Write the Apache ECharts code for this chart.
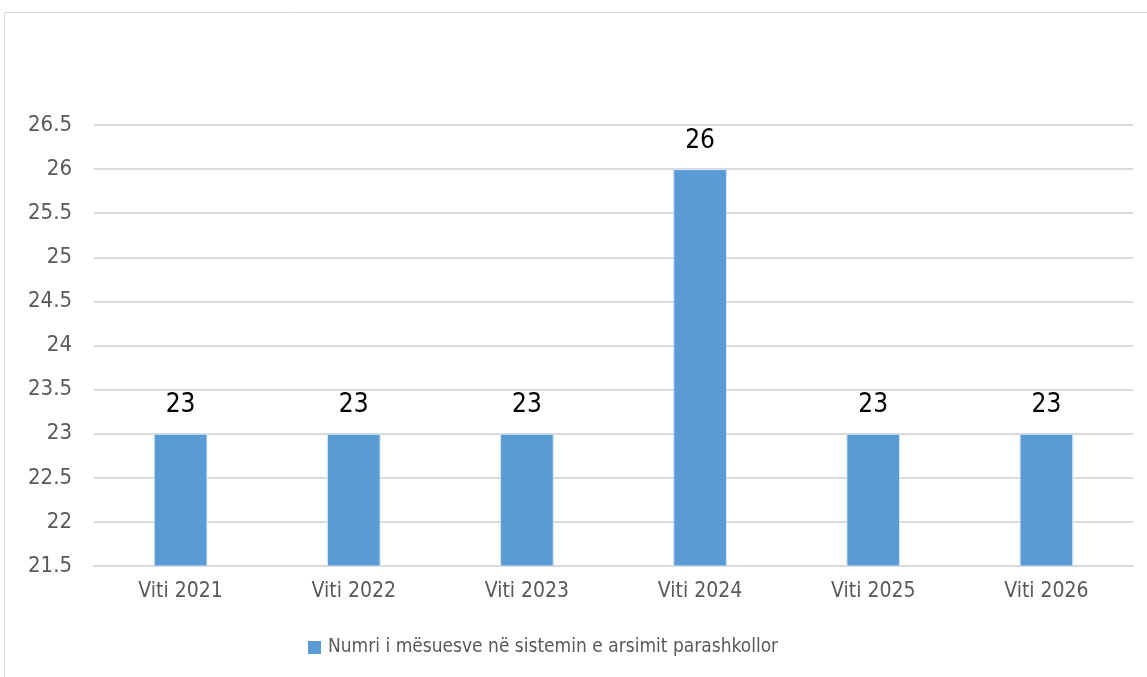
<!DOCTYPE html>
<html>
<head>
<meta charset="utf-8">
<script src="https://cdn.jsdelivr.net/npm/echarts@6/dist/echarts.min.js"></script>
<style>
  html, body { margin: 0; padding: 0; background: #fff; }
  #chart { width: 1147px; height: 677px; }
</style>
</head>
<body>
<div id="chart"></div>
<script>
// te dhenat
const categories = ['Viti 2021', 'Viti 2022', 'Viti 2023', 'Viti 2024', 'Viti 2025', 'Viti 2026'];
const teachers = [23, 23, 23, 26, 23, 23];
const seriesName = 'Numri i mësuesve në sistemin e arsimit parashkollor';

const font = '"DejaVu Sans Condensed", "Liberation Sans Narrow", "DejaVu Sans", sans-serif';

const chart = echarts.init(document.getElementById('chart'));

chart.setOption({
    animation: false,
    textStyle: { fontFamily: font },
    graphic: [{
        type: 'rect',
        shape: { x: 4.5, y: 12.5, width: 1200, height: 700 },
        style: { fill: 'none', stroke: '#d9d9d9', lineWidth: 1 },
        silent: true
    }],
    grid: { left: 94, right: 14, top: 125, bottom: 111, containLabel: false },
    legend: {
        top: 633,
        left: 303,
        itemWidth: 13,
        itemHeight: 13,
        itemGap: 8,
        icon: 'rect',
        itemStyle: { borderWidth: 0 },
        textStyle: { color: '#595959', fontSize: 19, fontFamily: font, padding: [0, 0, 0, 2] },
        data: [seriesName]
    },
    xAxis: {
        type: 'category',
        data: categories,
        axisLine: { show: true, lineStyle: { color: '#d9d9d9', width: 2 } },
        axisTick: { show: false },
        axisLabel: { color: '#595959', fontSize: 21, margin: 15, fontFamily: font }
    },
    yAxis: {
        type: 'value',
        min: 21.5,
        max: 26.5,
        interval: 0.5,
        axisLine: { show: false },
        axisTick: { show: false },
        axisLabel: { color: '#595959', fontSize: 22, margin: 22, fontFamily: font },
        splitLine: { lineStyle: { color: '#d9d9d9', width: 2 } }
    },
    series: [{
        name: seriesName,
        type: 'bar',
        data: teachers,
        barWidth: '31%',
        itemStyle: { color: '#5b9bd5', borderColor: '#d6e6f5', borderWidth: 1 },
        label: {
            show: true,
            position: 'top',
            distance: 15,
            color: '#000',
            fontSize: 26,
            fontFamily: font
        }
    }]
});
</script>
</body>
</html>
